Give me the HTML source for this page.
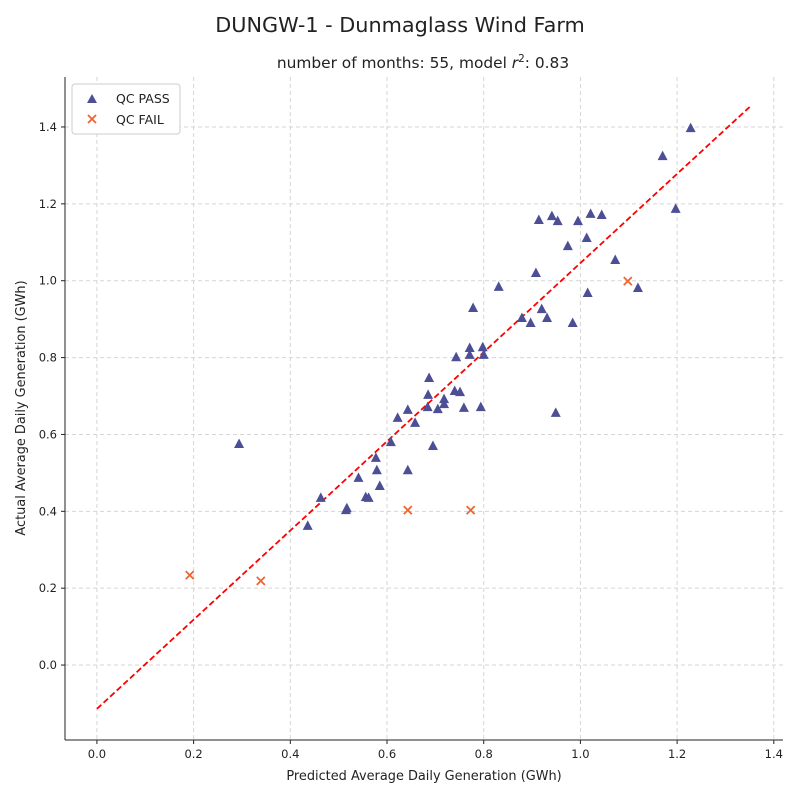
<!DOCTYPE html>
<html><head><meta charset="utf-8"><style>
body{margin:0;background:#fff}
svg text{font-family:"DejaVu Sans","Liberation Sans",sans-serif;fill:#222}
</style></head><body>
<svg id="chart" width="800" height="800">
<text x="400" y="32" text-anchor="middle" font-size="20.8">DUNGW-1 - Dunmaglass Wind Farm</text>
<text x="423" y="68" text-anchor="middle" font-size="15.4">number of months: 55, model <tspan font-style="italic">r</tspan><tspan dy="-6" font-size="10.5">2</tspan><tspan dy="6">: 0.83</tspan></text>
<g id="grid"></g>
<g id="axes"></g>
<g id="marks"></g>
<text x="424" y="780" text-anchor="middle" font-size="12.9">Predicted Average Daily Generation (GWh)</text>
<text transform="translate(25,408) rotate(-90)" text-anchor="middle" font-size="12.9">Actual Average Daily Generation (GWh)</text>
<g>
<rect x="72" y="84" width="108" height="50" rx="3" fill="#fff" stroke="#ccc"/>
<polygon points="92,94 97,103 87,103" fill="#4c4f96"/>
<text x="116" y="103" font-size="12.5">QC PASS</text>
<path d="M88,115 L96,123 M96,115 L88,123" stroke="#f0642d" stroke-width="1.8"/>
<text x="116" y="124" font-size="12.5">QC FAIL</text>
</g>
</svg>
<script>
const xTicks=[0,0.2,0.4,0.6,0.8,1.0,1.2,1.4];
const yTicks=[0,0.2,0.4,0.6,0.8,1.0,1.2,1.4];
const passX=[0.294,0.436,0.463,0.515,0.517,0.541,0.556,0.562,0.577,0.579,0.585,0.608,0.622,0.643,0.643,0.658,0.684,0.687,0.685,0.695,0.705,0.718,0.718,0.740,0.743,0.751,0.759,0.771,0.771,0.778,0.794,0.798,0.800,0.831,0.879,0.897,0.908,0.914,0.920,0.931,0.941,0.949,0.953,0.974,0.984,0.995,1.013,1.015,1.021,1.044,1.072,1.119,1.170,1.197,1.228];
const passY=[0.575,0.362,0.435,0.403,0.408,0.487,0.437,0.435,0.539,0.507,0.466,0.580,0.643,0.664,0.507,0.630,0.671,0.747,0.703,0.570,0.666,0.679,0.692,0.713,0.801,0.710,0.669,0.825,0.807,0.929,0.671,0.827,0.807,0.984,0.903,0.890,1.020,1.158,0.926,0.903,1.168,0.656,1.155,1.090,0.890,1.155,1.111,0.968,1.174,1.171,1.054,0.981,1.324,1.187,1.397];
const failX=[0.192,0.339,0.643,0.773,1.098];
const failY=[0.234,0.219,0.403,0.403,0.999];
const fitX=[0,1.35];
const fitY=[-0.114,1.452];
const X0=65,X1=783,Y0=740,Y1=77,xmin=-0.066,xmax=1.419,ymin=-0.195,ymax=1.530;
const sx=v=>X0+(v-xmin)/(xmax-xmin)*(X1-X0);
const sy=v=>Y0-(v-ymin)/(ymax-ymin)*(Y0-Y1);
const NS="http://www.w3.org/2000/svg";
function mk(tag,attrs,parent){const e=document.createElementNS(NS,tag);for(const k in attrs)e.setAttribute(k,attrs[k]);document.getElementById(parent).appendChild(e);return e;}
xTicks.forEach(t=>{
 const g=mk('line',{x1:sx(t),x2:sx(t),y1:Y1,y2:Y0,stroke:'#d5d5d5','stroke-dasharray':'4,3'},'grid');
 
 
 const tk=mk('line',{x1:sx(t),x2:sx(t),y1:Y0,y2:Y0+4,stroke:'#222'},'axes');
 
 
 const tx=mk('text',{x:sx(t),y:Y0+18,'text-anchor':'middle','font-size':'11.5'},'axes');
 tx.textContent=t.toFixed(1);
 
 
});
yTicks.forEach(t=>{
 const g=mk('line',{x1:X0,x2:X1,y1:sy(t),y2:sy(t),stroke:'#d5d5d5','stroke-dasharray':'4,3'},'grid');
 
 
 const tk=mk('line',{x1:X0-4,x2:X0,y1:sy(t),y2:sy(t),stroke:'#222'},'axes');
 
 
 const tx=mk('text',{x:X0-8,y:sy(t)+4,'text-anchor':'end','font-size':'11.5'},'axes');
 tx.textContent=t.toFixed(1);
 
 
});
const ax1=mk('line',{x1:X0,x2:X0,y1:Y1,y2:Y0,stroke:'#222'},'axes');


const ax2=mk('line',{x1:X0,x2:X1,y1:Y0,y2:Y0,stroke:'#222'},'axes');


const fl=mk('line',{x1:sx(fitX[0]),y1:sy(fitY[0]),x2:sx(fitX[1]),y2:sy(fitY[1]),stroke:'#f00','stroke-width':'1.8','stroke-dasharray':'6,3'},'marks');


passX.forEach((v,i)=>{
 const x=sx(v),y=sy(passY[i]);
 const p=mk('polygon',{points:`${x},${y-5.5} ${x+5},${y+4} ${x-5},${y+4}`,fill:'#4c4f96'},'marks');
 
 
});
failX.forEach((v,i)=>{
 const x=sx(v),y=sy(failY[i]);
 const p=mk('path',{d:`M${x-4},${y-4}L${x+4},${y+4}M${x+4},${y-4}L${x-4},${y+4}`,stroke:'#f0642d','stroke-width':'1.8'},'marks');
 
 
});
</script>
</body></html>
